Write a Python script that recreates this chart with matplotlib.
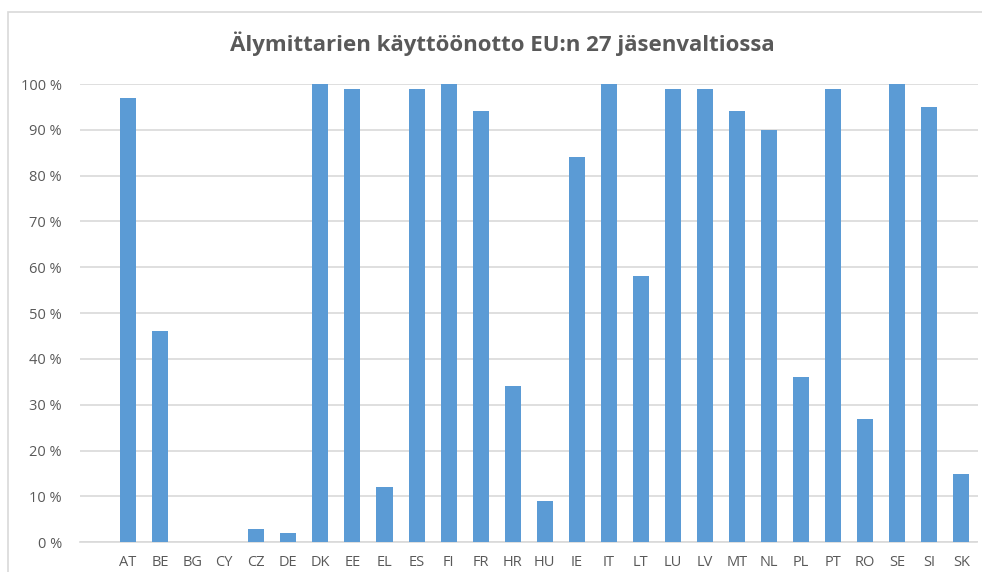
import matplotlib
matplotlib.use("Agg")
import matplotlib.pyplot as plt
from matplotlib.patches import Rectangle
import numpy as np

countries = ["AT", "BE", "BG", "CY", "CZ", "DE", "DK", "EE", "EL", "ES", "FI", "FR", "HR", "HU",
             "IE", "IT", "LT", "LU", "LV", "MT", "NL", "PL", "PT", "RO", "SE", "SI", "SK"]
values = [97, 46, 0, 0, 3, 2, 100, 99, 12, 99, 100, 94, 34, 9,
          84, 100, 58, 99, 99, 94, 90, 36, 99, 27, 100, 95, 15]
yticks = [0, 10, 20, 30, 40, 50, 60, 70, 80, 90, 100]
ytick_labels = [f"{t} %" for t in yticks]
title = "Älymittarien käyttöönotto EU:n 27 jäsenvaltiossa"

W, H = 982, 572
fig = plt.figure(figsize=(W / 100, H / 100), dpi=100)
fig.patch.set_facecolor("white")

# chart frame
fig.patches.append(Rectangle((8 / W, -0.1), 1.2, (H - 12) / H + 0.1, transform=fig.transFigure,
                             fill=False, edgecolor="#d9d9d9", linewidth=1.2))

ax = fig.add_axes([80 / W, (H - 542.3) / H, (977.5 - 80) / W, (542.3 - 84) / H])
x = np.arange(len(countries))
ax.bar(x, values, width=0.5, color="#5b9bd5", zorder=3)
ax.set_xlim(-1.5, len(countries) - 0.5)
ax.set_ylim(0, 100)
ax.set_yticks(yticks)
ax.set_yticklabels(ytick_labels)
ax.set_xticks(x)
ax.set_xticklabels(countries)
ax.grid(axis="y", color="#d9d9d9", linewidth=1.2, zorder=0)
ax.set_axisbelow(True)
for s in ["top", "right", "left"]:
    ax.spines[s].set_visible(False)
ax.spines["bottom"].set_color("#d9d9d9")
ax.spines["bottom"].set_linewidth(1.2)
ax.tick_params(axis="both", length=0, colors="#595959", labelsize=10.5)
ax.tick_params(axis="y", pad=13)
ax.tick_params(axis="x", pad=9)
for lab in ax.get_xticklabels() + ax.get_yticklabels():
    lab.set_fontfamily("Open Sans")

fig.text(502 / W, 1 - 44 / H, title, ha="center", va="center", fontsize=16, fontweight="bold",
         color="#595959", fontfamily="Open Sans")

fig.savefig("out.png", dpi=100)
